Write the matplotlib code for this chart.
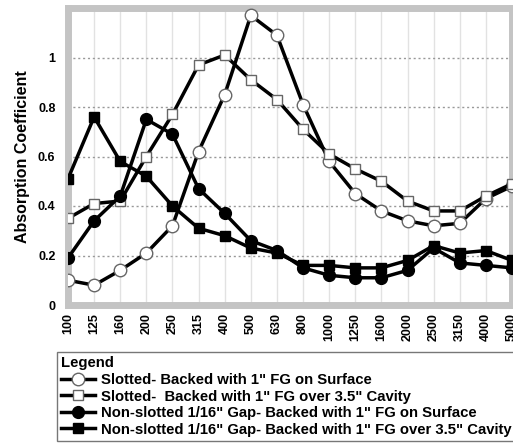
import matplotlib
matplotlib.use("Agg")
import matplotlib.pyplot as plt
import numpy as np

freqs = ["100", "125", "160", "200", "250", "315", "400", "500", "630", "800",
         "1000", "1250", "1600", "2000", "2500", "3150", "4000", "5000"]

slotted_surface = [0.10, 0.08, 0.14, 0.21, 0.32, 0.62, 0.85, 1.17, 1.09, 0.81,
                   0.58, 0.45, 0.38, 0.34, 0.32, 0.33, 0.43, 0.48]
slotted_cavity = [0.35, 0.41, 0.42, 0.60, 0.77, 0.97, 1.01, 0.91, 0.83, 0.71,
                  0.61, 0.55, 0.50, 0.42, 0.38, 0.38, 0.44, 0.49]
nonslot_surface = [0.19, 0.34, 0.44, 0.75, 0.69, 0.47, 0.37, 0.26, 0.22, 0.15,
                   0.12, 0.11, 0.11, 0.14, 0.23, 0.17, 0.16, 0.15]
nonslot_cavity = [0.51, 0.76, 0.58, 0.52, 0.40, 0.31, 0.28, 0.23, 0.21, 0.16,
                  0.16, 0.15, 0.15, 0.18, 0.24, 0.21, 0.22, 0.18]

labels = ['Slotted- Backed with 1" FG on Surface',
          'Slotted-  Backed with 1" FG over 3.5" Cavity',
          'Non-slotted 1/16" Gap- Backed with 1" FG on Surface',
          'Non-slotted 1/16" Gap- Backed with 1" FG over 3.5" Cavity']

plt.rcParams['font.family'] = ['Liberation Sans', 'DejaVu Sans']
plt.rcParams['font.weight'] = 'bold'

fig = plt.figure(figsize=(5.13, 4.46), dpi=100)
ax = fig.add_axes([68/513, 1-305/446, 444/513, 297/446])

x = np.arange(len(freqs))
styles = [
    dict(marker='o', mfc='white', mec='#666666', ms=9, mew=1.0),
    dict(marker='s', mfc='white', mec='#666666', ms=7.5, mew=1.0),
    dict(marker='o', mfc='black', mec='black', ms=8.5),
    dict(marker='s', mfc='black', mec='black', ms=7.5),
]
series = [slotted_surface, slotted_cavity, nonslot_surface, nonslot_cavity]
for s, st, lab in zip(series, styles, labels):
    ax.plot(x, s, color='black', lw=2.5, label=lab, zorder=3, **st)

ax.set_xlim(0, len(freqs) - 1)
ax.set_ylim(0, 1.2)
ax.set_yticks([0, 0.2, 0.4, 0.6, 0.8, 1.0])
ax.set_yticklabels(["0", "0.2", "0.4", "0.6", "0.8", "1"], fontsize=9, fontweight='bold')
ax.set_xticks(x)
ax.set_xticklabels(freqs, rotation=90, fontsize=9, fontweight='bold')
ax.tick_params(axis='y', length=0, pad=9)
ax.tick_params(axis='x', length=0, pad=6)

for xi in x:
    ax.axvline(xi, color='#e2e2e2', lw=1, zorder=0)
for yv in [0.2, 0.4, 0.6, 0.8, 1.0]:
    ax.axhline(yv, color='#999999', lw=1, ls=(0, (1.5, 2)), zorder=0)
ax.axhline(0, color='#555555', lw=1.2, ls=(0, (1.5, 1.5)), zorder=1)

for sp in ax.spines.values():
    sp.set_color('#c4c4c4')
    sp.set_linewidth(5)

ax.set_ylabel("Absorption Coefficient", fontsize=11.5, fontweight='bold', labelpad=6)

leg = fig.legend(loc='upper left', bbox_to_anchor=(57/513, 1-352/446),
                 title="Legend", alignment='left', fontsize=10.7,
                 title_fontproperties={'weight': 'bold', 'size': 10.7},
                 frameon=True, fancybox=False, edgecolor='#555555',
                 handlelength=2.25, handletextpad=0.4, labelspacing=0.17,
                 borderpad=0.3, borderaxespad=0)
leg.get_frame().set_linewidth(1.0)
for t in leg.get_texts():
    t.set_fontweight('bold')

fig.savefig("out.png", dpi=100)
